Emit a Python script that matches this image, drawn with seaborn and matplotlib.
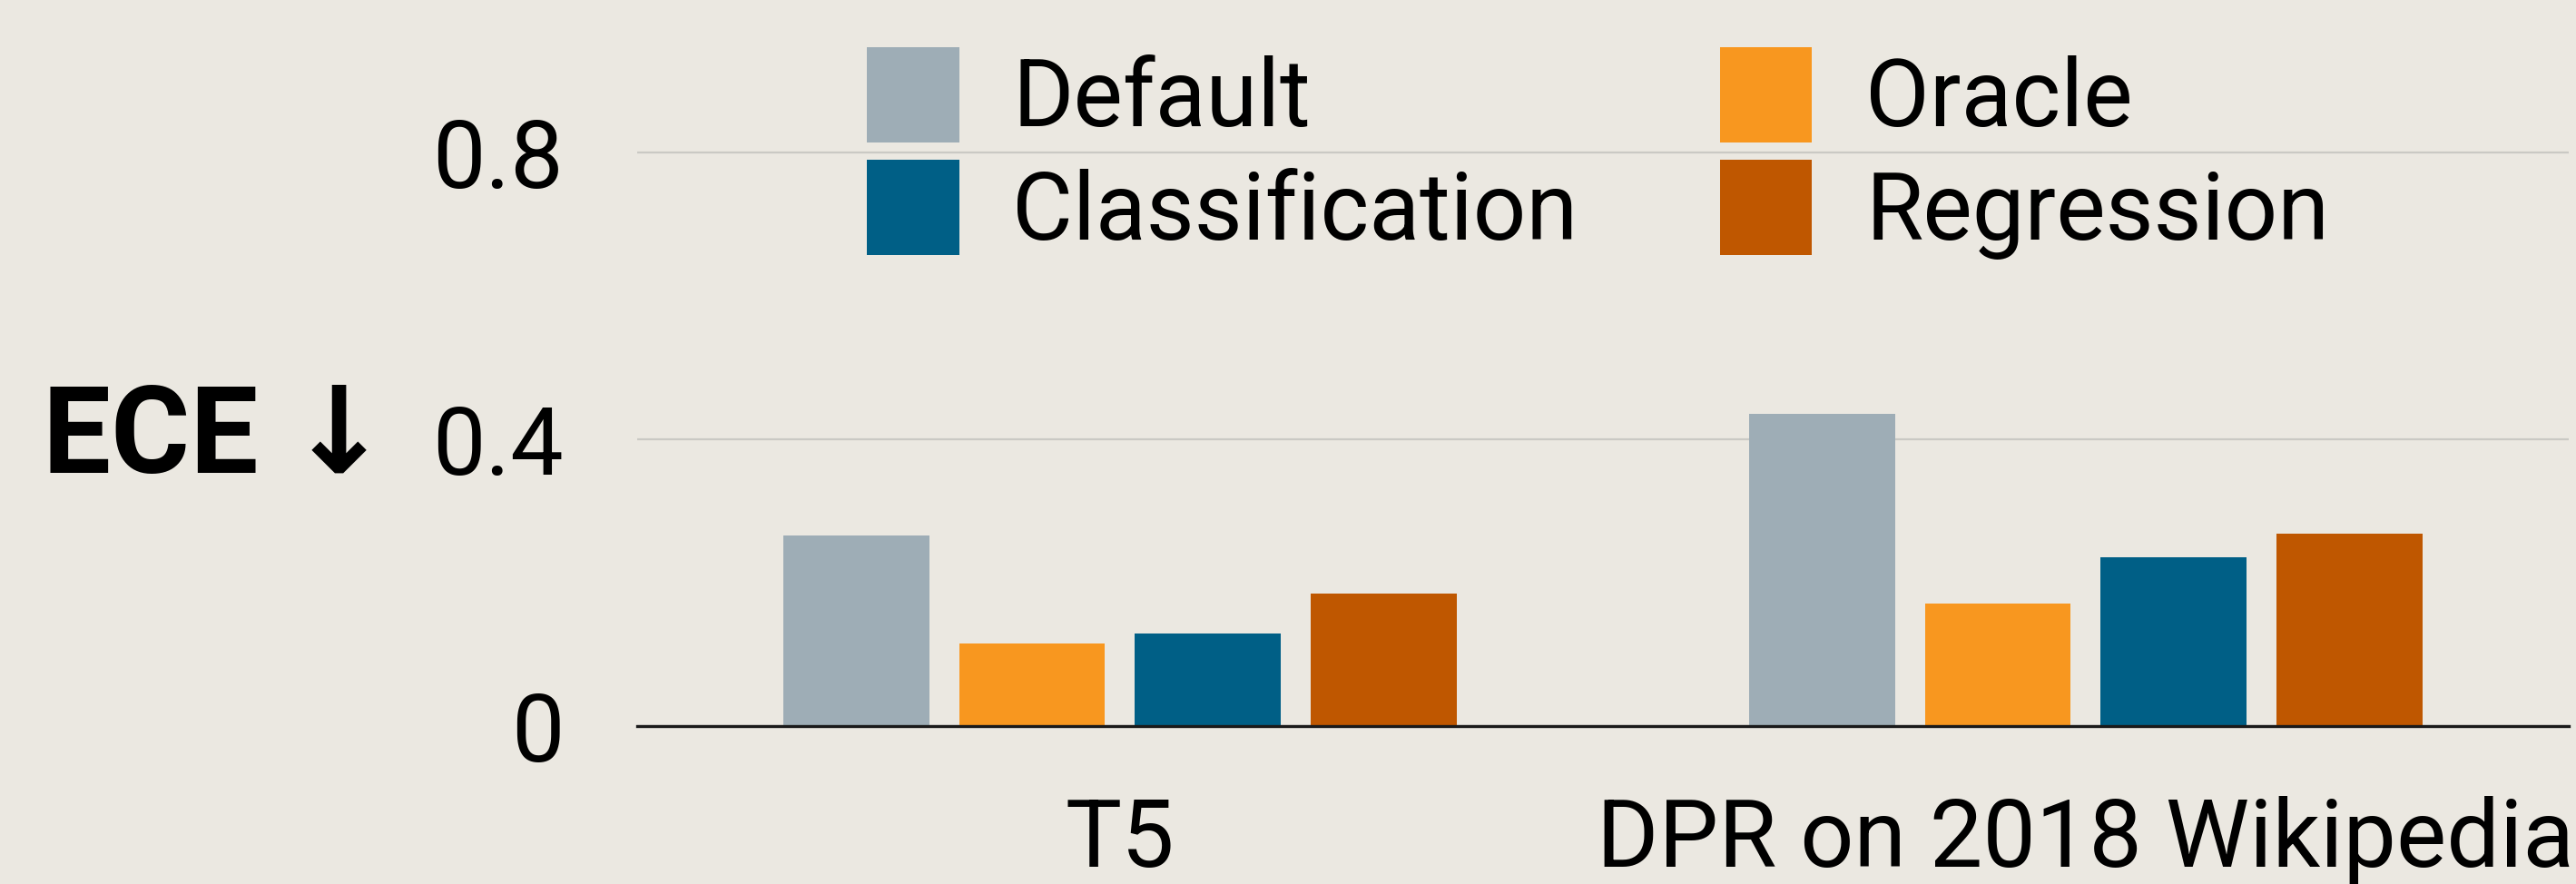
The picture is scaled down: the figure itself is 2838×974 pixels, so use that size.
import pandas as pd
import numpy as np
import matplotlib
matplotlib.use("Agg")
import matplotlib.pyplot as plt
import seaborn as sns

# values
models = ["T5", "DPR on 2018 Wikipedia"]
methods = ["Default", "Oracle", "Classification", "Regression"]
ece_default = [0.266, 0.436]
ece_oracle = [0.115, 0.171]
ece_classification = [0.130, 0.236]
ece_regression = [0.185, 0.269]
y_ticks = [0, 0.4, 0.8]
y_tick_labels = ["0", "0.4", "0.8"]

colors = ["#9EADB6", "#F8971F", "#005F86", "#BF5700"]
bg = "#EBE8E1"

df = pd.DataFrame({
    "model": models * 4,
    "method": np.repeat(methods, len(models)),
    "ece": ece_default + ece_oracle + ece_classification + ece_regression,
})

sns.set_theme(style="white")
plt.rcParams["font.family"] = ["Roboto", "DejaVu Sans"]
plt.rcParams["font.size"] = 74
plt.rcParams["text.color"] = "black"
plt.rcParams["axes.labelcolor"] = "black"

fig = plt.figure(figsize=(28.38, 9.74), dpi=100, facecolor=bg)
ax = fig.add_axes([701.7 / 2838, 1 - 800.3 / 974, (2830 - 701.7) / 2838, (800.3 - 9.9) / 974])
ax.set_facecolor(bg)

sns.barplot(data=df, x="model", y="ece", hue="method", hue_order=methods,
            palette=colors, width=0.728, gap=0.17, linewidth=0, saturation=1,
            ax=ax)

ax.set_ylim(0, 1.0)
ax.set_xlim(-0.5, 1.5)
ax.set_yticks(y_ticks)
ax.set_yticklabels(y_tick_labels)
ax.grid(axis="y", color="#CAC9C4", linewidth=1.6)
ax.set_axisbelow(True)
ax.tick_params(axis="both", length=0, labelsize=75, colors="black")
ax.tick_params(axis="x", pad=55)
ax.tick_params(axis="y", pad=58)
for side in ["left", "top", "right"]:
    ax.spines[side].set_visible(False)
ax.spines["bottom"].set_color("#1a1a1a")
ax.spines["bottom"].set_linewidth(2.4)

ax.set_xlabel("")
ax.set_ylabel("ECE ↓", fontsize=96, fontweight="bold", rotation=0,
              ha="right", va="center", color="black")
ax.yaxis.set_label_coords(-0.128, 0.4)

# legend: rows Default/Oracle, Classification/Regression
handles, labels = ax.get_legend_handles_labels()
order = [0, 2, 1, 3]
ax.get_legend().remove()
fig.legend([handles[i] for i in order], [labels[i] for i in order],
           loc="upper left", bbox_to_anchor=(955 / 2838, 1 - 52 / 974),
           ncol=2, frameon=False, fontsize=74, borderpad=0, borderaxespad=0,
           handlelength=0.99, handleheight=1.19, handletextpad=0.57,
           labelspacing=0.16, columnspacing=1.52)

fig.savefig("out.png", dpi=100, facecolor=bg)
